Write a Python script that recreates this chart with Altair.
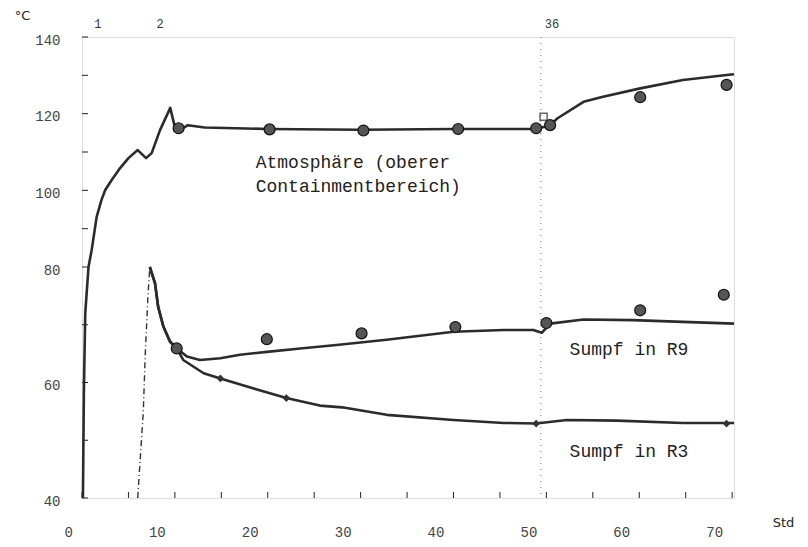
import altair as alt
import pandas as pd

# ---- data ----
atm_x = [0.1, 0.2, 0.35, 0.7, 1.04, 1.58, 2.1, 2.5, 3.2, 4.1, 5.0, 6.0, 6.9, 7.5, 8.4, 9.5,
         10.0, 10.4, 11.4, 13.2, 20.0, 30.0, 40.0, 48.9, 50.4, 51.2, 54.0, 56.1, 60.1, 64.7, 69.4, 70.2]
atm_y = [40, 58, 72, 80, 84.4, 93.1, 97.5, 100.1, 102.7, 105.8, 108.4, 110.5, 108.4, 109.7, 115.7, 121.5,
         116.5, 115.5, 117.0, 116.4, 116.0, 115.8, 116.0, 116.0, 117.0, 118.8, 123.1, 124.4, 126.6, 128.8, 130.1, 130.3]
atm_pts_x = [10.4, 20.2, 30.3, 40.5, 48.9, 50.4, 60.1, 69.4]
atm_pts_y = [116.2, 115.9, 115.6, 116.0, 116.2, 117.0, 124.3, 127.5]
sq_x = [49.7]
sq_y = [119.2]

r9_x = [7.3, 7.86, 8.2, 8.76, 9.47, 10.2, 11.3, 12.7, 14.9, 17.0, 19.9, 23.5, 27.4, 32.8, 40.0, 45.4,
        48.6, 49.5, 50.4, 54.0, 59.3, 64.7, 70.2]
r9_y = [80, 77.2, 73.1, 69.7, 67.1, 65.9, 64.5, 63.9, 64.2, 64.8, 65.3, 65.9, 66.5, 67.4, 68.8, 69.1,
        69.1, 68.6, 70.2, 70.9, 70.8, 70.5, 70.2]
r9_pts_x = [10.2, 19.9, 30.1, 40.2, 50.0, 60.1, 69.1]
r9_pts_y = [65.9, 67.5, 68.5, 69.6, 70.3, 72.5, 75.2]

r3_x = [7.3, 7.86, 8.2, 8.76, 9.47, 10.2, 10.9, 13.1, 14.9, 18.4, 22.0, 25.6, 28.0, 32.8, 40.0, 45.4,
        48.9, 52.2, 57.6, 64.7, 70.2]
r3_y = [80, 77.2, 73.1, 69.7, 67.1, 65.9, 63.9, 61.6, 60.7, 59.0, 57.3, 56.0, 55.7, 54.4, 53.5, 53.0,
        52.9, 53.5, 53.4, 53.0, 53.0]
r3_pts_x = [14.9, 22.0, 48.9, 69.4]
r3_pts_y = [60.7, 57.3, 52.9, 52.9]

rise_x = [6.0, 6.6, 6.8, 7.1, 7.3]
rise_y = [40, 55, 64.5, 75, 80]

y_ticks = [40, 60, 80, 100, 120, 140]
x_ticks = [0, 10, 20, 30, 40, 50, 60, 70]
y_minor = [50, 70, 90, 110, 130]
x_minor = [5, 15, 25, 35, 45, 55, 65]

phase_x = [1.7, 8.4, 50.6]
phase_lbl = ["1", "2", "36"]
marker_line_x = [49.4]

labels_txt = ["Atmosphäre (oberer", "Containmentbereich)", "Sumpf in R9", "Sumpf in R3"]
labels_x = [18.7, 18.7, 52.5, 52.5]
labels_y = [107.1, 100.9, 65.6, 48.0]

W, H = 652, 461
xs = alt.Scale(domain=[0, 70.2], nice=False, zero=False)
ys = alt.Scale(domain=[40, 80, 140], range=[H, 230, 0], nice=False, zero=False)

rows = []
for name, xv, yv in [("atm", atm_x, atm_y), ("r9", r9_x, r9_y), ("r3", r3_x, r3_y)]:
    for i, (a, b) in enumerate(zip(xv, yv)):
        rows.append({"s": name, "i": i, "x": a, "y": b})
lines_df = pd.DataFrame(rows)
rise_df = pd.DataFrame({"x": rise_x, "y": rise_y, "i": range(len(rise_x))})
circ_df = pd.DataFrame({"x": atm_pts_x + r9_pts_x, "y": atm_pts_y + r9_pts_y})
dia_df = pd.DataFrame({"x": r3_pts_x, "y": r3_pts_y})
sq_df = pd.DataFrame({"x": sq_x, "y": sq_y})
lab_df = pd.DataFrame({"t": labels_txt, "x": labels_x, "y": labels_y})
phase_df = pd.DataFrame({"x": phase_x, "t": phase_lbl})
ymin_df = pd.DataFrame({"y": y_minor + y_ticks})
xmin_df = pd.DataFrame({"x": x_minor + x_ticks})
vline_df = pd.DataFrame({"x": marker_line_x})

X = alt.X("x:Q", scale=xs,
          axis=alt.Axis(values=x_ticks, title="Std", grid=False, ticks=False, domain=False,
                        labelFont="Liberation Mono", labelFontSize=14, labelColor="#444",
                        labelPadding=27, labelOffset=-18,
                        titleFont="DejaVu Sans", titleFontSize=13, titleFontWeight="normal",
                        titleColor="#222", titleX=701, titleY=24, titleAlign="center",
                        titleBaseline="middle"))
Y = alt.Y("y:Q", scale=ys,
          axis=alt.Axis(values=y_ticks, title="°C", grid=False, ticks=False, domain=False,
                        labelFont="Liberation Mono", labelFontSize=14, labelColor="#444",
                        labelPadding=22, labelOffset=3,
                        titleFont="DejaVu Sans", titleFontSize=13, titleFontWeight="normal",
                        titleColor="#222", titleAngle=0, titleX=-60, titleY=-22,
                        titleAlign="center", titleBaseline="middle"))

lines = alt.Chart(lines_df).mark_line(color="#2b2b2b", strokeWidth=2.6, strokeJoin="round").encode(
    x=X, y=Y, detail="s:N", order="i:Q")
rise = alt.Chart(rise_df).mark_line(color="#333", strokeWidth=1.4, strokeDash=[6, 3, 1, 3]).encode(
    x=alt.X("x:Q", scale=xs), y=alt.Y("y:Q", scale=ys), order="i:Q")
circles = alt.Chart(circ_df).mark_point(shape="circle", filled=True, size=120, color="#555",
                                        stroke="#111", strokeWidth=1.2, opacity=1).encode(
    x=alt.X("x:Q", scale=xs), y=alt.Y("y:Q", scale=ys))
dias = alt.Chart(dia_df).mark_point(shape="diamond", filled=True, size=60, color="#333", opacity=1).encode(
    x=alt.X("x:Q", scale=xs), y=alt.Y("y:Q", scale=ys))
sq = alt.Chart(sq_df).mark_point(shape="square", filled=False, size=50, color="#222", strokeWidth=1.5).encode(
    x=alt.X("x:Q", scale=xs), y=alt.Y("y:Q", scale=ys))
vline = alt.Chart(vline_df).mark_rule(color="#777", strokeWidth=1, strokeDash=[1, 5]).encode(
    x=alt.X("x:Q", scale=xs))
ytk = alt.Chart(ymin_df).mark_rule(color="#222", strokeWidth=1).encode(
    y=alt.Y("y:Q", scale=ys), x=alt.value(0), x2=alt.value(6))
xtk = alt.Chart(xmin_df).mark_rule(color="#222", strokeWidth=1).encode(
    x=alt.X("x:Q", scale=xs), y=alt.value(H), y2=alt.value(H - 6))
labels = alt.Chart(lab_df).mark_text(align="left", baseline="middle", font="Liberation Mono",
                                     fontSize=18, color="#222").encode(
    x=alt.X("x:Q", scale=xs), y=alt.Y("y:Q", scale=ys), text="t:N")
phase = alt.Chart(phase_df).mark_text(align="center", baseline="middle", font="Liberation Mono",
                                      fontSize=12, color="#333").encode(
    x=alt.X("x:Q", scale=xs), y=alt.value(-13), text="t:N")

chart = alt.layer(vline, ytk, xtk, rise, lines, circles, dias, sq, labels, phase).properties(
    width=W, height=H,
    autosize=alt.AutoSizeParams(type="none"),
    padding={"left": 74, "top": 29, "right": 66, "bottom": 48},
).configure_view(stroke="#1a1a1a", strokeWidth=2).configure(background="white")

chart.save("out.html", embed_options={"renderer": "svg", "actions": False})
